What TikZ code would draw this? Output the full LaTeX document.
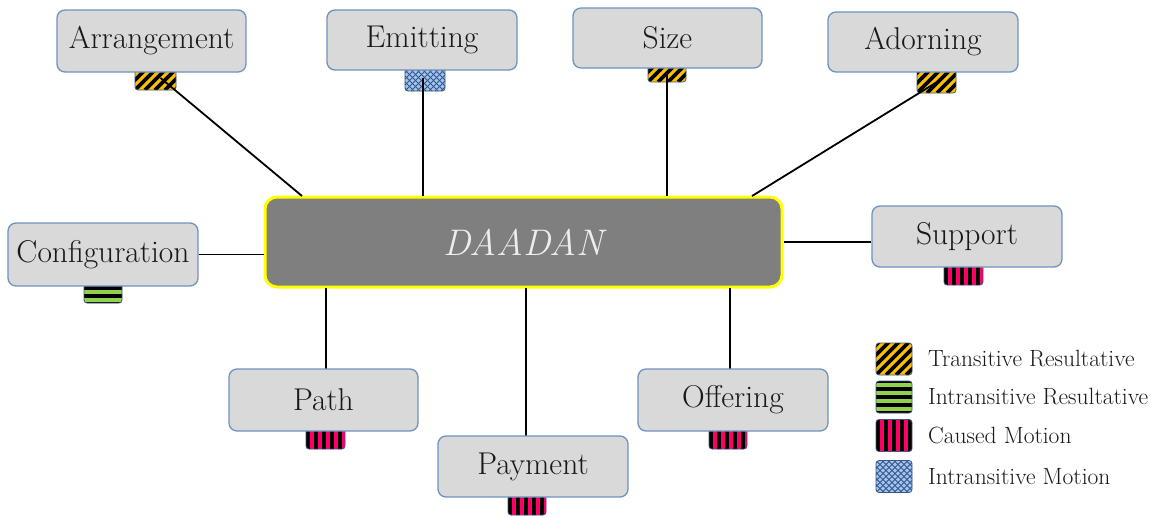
\documentclass[tikz,border=0pt]{standalone}
\usepackage{tikz}
\definecolor{boxgray}{HTML}{D9D9D9}
\definecolor{boxblue}{HTML}{6F93BF}
\definecolor{centgray}{HTML}{7F7F7F}
\definecolor{centyel}{HTML}{FFFF00}
\definecolor{tyellow}{HTML}{FFC000}
\definecolor{igreen}{HTML}{92D050}
\definecolor{cpink}{HTML}{FF0066}
\definecolor{mblue}{HTML}{A6C4E6}
\definecolor{mdark}{HTML}{2F5597}
\definecolor{swborder}{HTML}{3A5A85}
\begin{document}
\begin{tikzpicture}[x=1pt,y=-1pt,
  box/.style={draw=boxblue, fill=boxgray, rounded corners=8pt, line width=1.3pt,
    minimum width=190pt, minimum height=61pt, inner sep=0pt,
    font=\fontsize{31.5}{36}\selectfont, text=black!90},
  center/.style={draw=centyel, fill=centgray, rounded corners=12pt, line width=3pt,
    minimum width=517pt, minimum height=90pt, inner sep=0pt,
    font=\fontsize{37}{40}\selectfont\itshape, text=white!93!black},
  sw/.style={draw=swborder, line width=0.8pt, rounded corners=3pt, inner sep=0pt},
  trans/.style={sw, fill=tyellow, path picture={
    \foreach \k in {-60,-50,...,60}
      \draw[line width=3.6pt, black] ([xshift=\k pt]path picture bounding box.south west) -- ++(60,-60);}},
  intres/.style={sw, fill=igreen, path picture={
    \foreach \k in {0,8,...,48}
      \draw[line width=4pt, black] ([yshift=-\k pt]path picture bounding box.north west) -- ++(60,0);}},
  caused/.style={sw, fill=cpink, path picture={
    \foreach \k in {2,10,...,50}
      \draw[line width=4pt, black] ([xshift=\k pt]path picture bounding box.north west) -- ++(0,60);}},
  intmot/.style={sw, fill=mblue, path picture={
    \foreach \k in {-60,-54,...,60}{
      \draw[line width=0.9pt, mdark] ([xshift=\k pt]path picture bounding box.south west) -- ++(60,-60);
      \draw[line width=0.9pt, mdark] ([xshift=\k pt]path picture bounding box.north west) -- ++(60,60);}}},
  conn/.style={line width=1.8pt, black},
  leg/.style={anchor=west, inner sep=0pt, font=\fontsize{23.5}{27}\selectfont, text=black!90}
]
\useasboundingbox (0,0) rectangle (1164,517);

% swatches (drawn first, partly hidden by boxes)
\node[trans,  minimum width=41pt, minimum height=24pt] (sarr)   at (155.5,78) {};
\node[intmot, minimum width=40pt, minimum height=27pt] (semit)  at (425,77.5) {};
\node[trans,  minimum width=38pt, minimum height=20pt] (ssize)  at (667,72) {};
\node[trans,  minimum width=39pt, minimum height=25pt] (sadorn) at (936.5,80.5) {};
\node[intres, minimum width=38pt, minimum height=23pt] (sconf)  at (103,291.5) {};
\node[caused, minimum width=39pt, minimum height=24pt] (ssup)   at (963.5,273) {};
\node[caused, minimum width=39pt, minimum height=24pt] (spath)  at (325.5,437) {};
\node[caused, minimum width=38pt, minimum height=24pt] (spay)   at (527,503) {};
\node[caused, minimum width=38pt, minimum height=24pt] (soff)   at (728,437) {};

% central node
\node[center] (daadan) at (523.5,242) {DAADAN};

% connector end points on the central node
\coordinate (carr)   at (302,196);
\coordinate (cemit)  at (423,196);
\coordinate (csize)  at (667,196);
\coordinate (cadorn) at (752,196);
\coordinate (cpath)  at (326,288);
\coordinate (cpay)   at (526,288);
\coordinate (coff)   at (730,288);

% connectors
\draw[conn] ([xshift=5pt]sarr.center) -- (carr);
\draw[conn] (semit.center -| cemit) -- (cemit);
\draw[conn] (ssize.center) -- (csize);
\draw[conn] ([xshift=3pt]sadorn.center) -- (cadorn);
\draw[conn] (cpath) -- ++(0,81) coordinate (epath);
\draw[conn] (cpay) -- ++(0,149) coordinate (epay);
\draw[conn] (coff) -- ++(0,81) coordinate (eoff);

% boxes
\node[box, minimum width=189pt, minimum height=62pt] (arr)   at (151.5,41) {Arrangement};
\node[box, minimum height=60pt] (emit)  at (422,40) {Emitting};
\node[box, minimum width=189pt, minimum height=60pt] (size)  at (667.5,38) {Size};
\node[box, minimum height=60pt] (adorn) at (923,42) {Adorning};
\node[box, minimum height=63pt] (conf)  at (103,254.5) {Configuration};
\node[box] (sup)   at (967,236.5) {Support};
\node[box, minimum width=189pt, minimum height=62pt] (path)  at (323.5,400) {Path};
\node[box] (pay)   at (533,466.5) {Payment};
\node[box, minimum height=62pt] (off)   at (733,400) {Offering};

\draw[conn] (conf.east) -- (conf.east -| daadan.west);
\draw[conn] (daadan.east) -- (sup.west |- daadan.east);

% legend
\node[trans,  minimum width=36pt, minimum height=32pt] (l1) at (894,359) {};
\node[intres, minimum width=36pt, minimum height=32pt] (l2) at (894,397) {};
\node[caused, minimum width=36pt, minimum height=32pt] (l3) at (894,435.5) {};
\node[intmot, minimum width=36pt, minimum height=32pt] (l4) at (894,476.5) {};
\node[leg] (t1) at (928,359) {Transitive Resultative};
\node[leg] (t2) at (928,397) {Intransitive Resultative};
\node[leg] (t3) at (928,435.5) {Caused Motion};
\node[leg] (t4) at (928,476.5) {Intransitive Motion};
\end{tikzpicture}
\end{document}
